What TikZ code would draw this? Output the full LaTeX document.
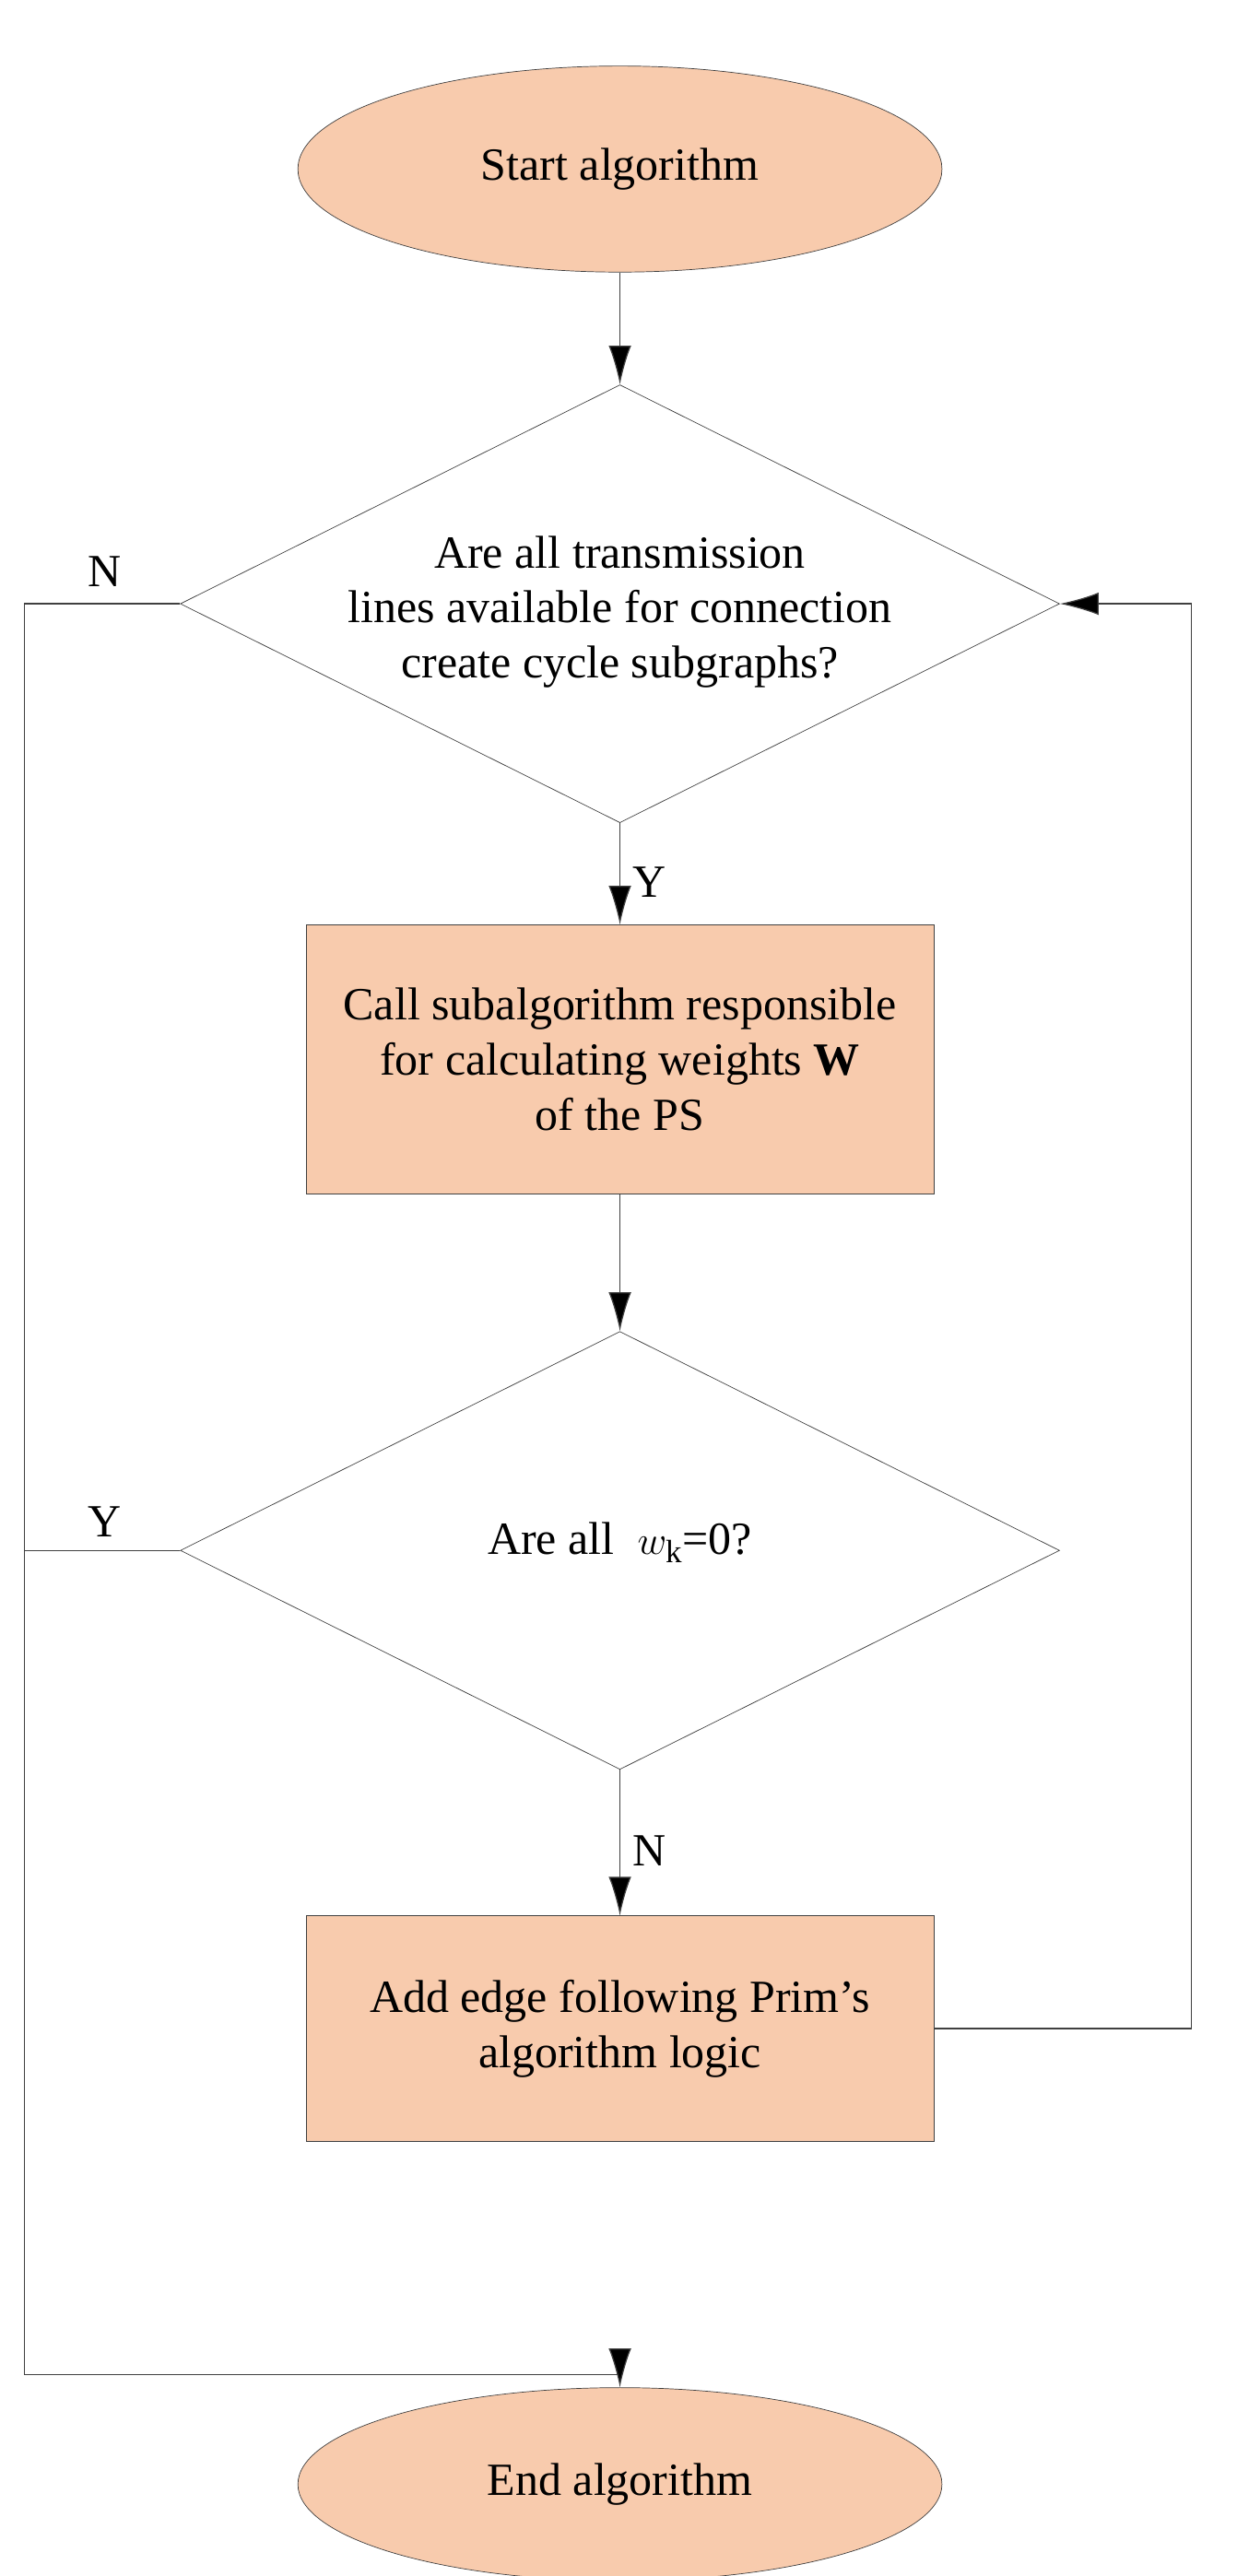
\documentclass[tikz,border=0pt]{standalone}
\usepackage{fontspec}
\setmainfont{Liberation Serif}
\usetikzlibrary{shapes.geometric,arrows.meta}
\definecolor{fillc}{RGB}{248,203,173}
\begin{document}
\begin{tikzpicture}[x=0.035cm,y=-0.035cm,
  every node/.style={font=\fontsize{28.5}{34}\selectfont},
  term/.style={ellipse,draw=black!75,fill=fillc,minimum width=400*0.035cm,minimum height=128*0.035cm,inner sep=0pt},
  proc/.style={rectangle,draw=black!75,fill=fillc,minimum width=390*0.035cm,minimum height=#1*0.035cm,align=center,inner sep=0pt},
  dec/.style={diamond,draw=black!75,aspect=2.02,minimum width=546*0.035cm,minimum height=272*0.035cm,align=center,inner sep=0pt},
  line/.style={draw=black!75,line width=0.7pt},
  arr/.style={line,-{Latex[length=24pt,width=14pt,fill=black]}}]
\useasboundingbox (0,0) rectangle (768,1600);
\node[term] (start) at (385,105) {Start algorithm};
\node[dec] (d1) at (385,375) {};
\node[align=center] (d1t) at (385,380) {Are all transmission\\lines available for connection\\create cycle subgraphs?};
\node[proc=167] (p1) at (385,658) {Call subalgorithm responsible\\for calculating weights $\mathbf{W}$\\of the PS};
\node[dec] (d2) at (385,963) {};
\node (d2t) at (385,958) {Are all\ \ $w_{\mathrm{k}}$=0?};
\node[proc=140] (p2) at (385,1260) {Add edge following Prim's\\algorithm logic};
\node[term,minimum height=120*0.035cm] (end) at (385,1543) {End algorithm};
\coordinate (c1) at (15,375);
\coordinate (c2) at (15,1475);
\coordinate (c3) at (385,1475);
\coordinate (c4) at (740,1260);
\coordinate (c5) at (740,375);
\draw[arr] (start) -- (d1);
\draw[arr] (d1) -- node[right,xshift=4pt,yshift=-5pt]{Y} (p1);
\draw[arr] (p1) -- (d2);
\draw[arr] (d2) -- node[right,xshift=4pt,yshift=-5pt]{N} (p2);
\draw[line] (d1.west) -- (c1) -- (c2) -- (c3);
\draw[arr] (c3) -- (end);
\draw[line] (d2.west) -- (15,963);
\draw[arr] (p2.east) -- (c4) -- (c5) -- (d1.east);
\node (nl) at (65,355) {N};
\node (yl) at (65,945) {Y};
\end{tikzpicture}
\end{document}
